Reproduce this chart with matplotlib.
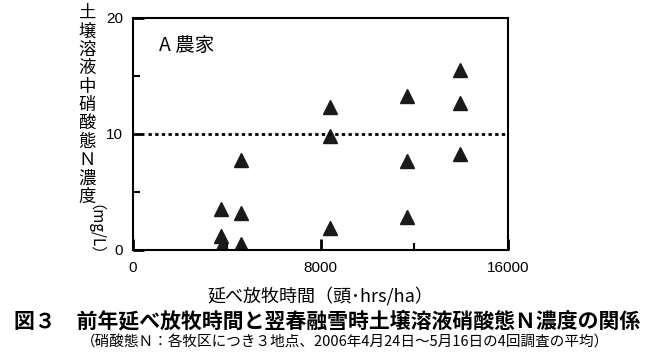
import matplotlib.pyplot as plt
from matplotlib.ticker import MultipleLocator

plt.rcParams['font.family'] = ['Liberation Sans', 'Noto Sans CJK JP', 'DejaVu Sans']

# grazing hours (head*hrs/ha) and nitrate-N in soil solution (mg/L)
graze_hours = [3740, 3740, 3800, 4590, 4590, 4590,
               8380, 8380, 8380, 11700, 11700, 11700,
               13950, 13950, 13950]
nitrate_n = [3.5, 1.15, 0.4, 7.7, 3.15, 0.5,
             12.25, 9.75, 1.85, 13.2, 7.65, 2.8,
             15.5, 12.6, 8.25]
threshold = 10

fig = plt.figure(figsize=(6.49, 3.59), dpi=100)
ax = fig.add_axes([0.205, 0.305, 0.578, 0.646])

ax.plot(graze_hours, nitrate_n, linestyle='none', marker='^',
        markersize=9.5, color='#1a1a1a')
ax.plot([650, 16000], [threshold, threshold], color='black',
        linestyle=(0, (1.2, 1.2)), linewidth=2)

ax.set_xlim(0, 16000)
ax.set_ylim(0, 20)
ax.set_xticks([0, 8000, 16000])
ax.xaxis.set_minor_locator(MultipleLocator(4000))
ax.set_yticks([0, 10, 20])
ax.yaxis.set_minor_locator(MultipleLocator(5))
ax.tick_params(which='major', direction='in', length=8, width=2,
               labelsize=11, pad=8)
ax.tick_params(axis='y', which='major', pad=7)
ax.tick_params(which='minor', direction='in', length=5, width=1.5)
for s in ax.spines.values():
    s.set_linewidth(1.5)

ax.text(0.07, 0.88, 'A 農家', transform=ax.transAxes, fontsize=14,
        family=['Noto Sans CJK JP', 'DejaVu Sans'], va='center')

# vertical y label, one glyph per line
ylab_chars = '土壌溶液中硝酸態Ｎ濃度'
for i, ch in enumerate(ylab_chars):
    fig.text(87 / 649, 1 - (13 + i * 18.4) / 359, ch, ha='center', va='center',
             fontsize=12.5, family=['Noto Sans CJK JP', 'DejaVu Sans'])
fig.text(87 / 649, 1 - 238 / 359, '（mg/L）', rotation=270, ha='center',
         va='center', fontsize=11, family=['Noto Sans CJK JP', 'DejaVu Sans'])

fig.text(320 / 649, 1 - 296 / 359, '延べ放牧時間（頭･hrs/ha）', ha='center',
         va='center', fontsize=13, family=['Noto Sans CJK JP', 'DejaVu Sans'])
fig.text(327 / 649, 1 - 321 / 359,
         '図３　前年延べ放牧時間と翌春融雪時土壌溶液硝酸態Ｎ濃度の関係',
         ha='center', va='center', fontsize=15, fontweight='bold',
         family=['Noto Sans CJK JP', 'DejaVu Sans'])
fig.text(345 / 649, 1 - 343 / 359,
         '（硝酸態Ｎ：各牧区につき３地点、2006年4月24日～5月16日の4回調査の平均）',
         ha='center', va='center', fontsize=10.5,
         family=['Noto Sans CJK JP', 'DejaVu Sans'])

fig.savefig('out.png', dpi=100)
